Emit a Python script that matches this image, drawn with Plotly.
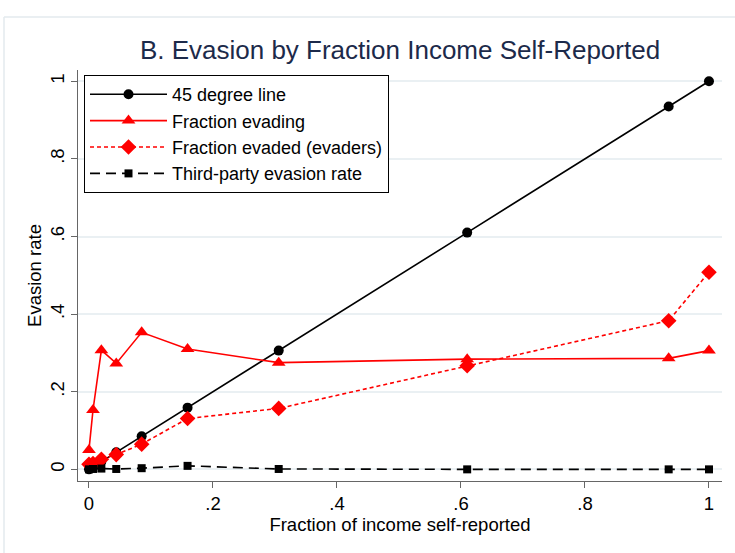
import plotly.graph_objects as go

x_share = [0, 0.0065, 0.02, 0.044, 0.085, 0.159, 0.306, 0.61, 0.935, 1.0]
deg45 = [0, 0.0065, 0.02, 0.044, 0.085, 0.159, 0.306, 0.61, 0.935, 1.0]
frac_evading = [0.050, 0.153, 0.307, 0.273, 0.353, 0.310, 0.275, 0.284, 0.286, 0.306]
frac_evaded = [0.013, 0.015, 0.026, 0.038, 0.065, 0.131, 0.157, 0.267, 0.383, 0.508]
third_party = [0.0, 0.001, 0.002, 0.001, 0.003, 0.009, 0.001, 0.0, 0.0, 0.0]

y_tickvals = [0, 0.2, 0.4, 0.6, 0.8, 1]
y_ticktext = ["0", ".2", ".4", ".6", ".8", "1"]
x_tickvals = [0, 0.2, 0.4, 0.6, 0.8, 1]
x_ticktext = ["0", ".2", ".4", ".6", ".8", "1"]

FONT = "Liberation Sans, Arial, sans-serif"
FS = 18.5

fig = go.Figure()
fig.add_trace(go.Scatter(x=x_share, y=deg45, mode="lines+markers", name="45 degree line",
                         line=dict(color="black", width=1.6),
                         marker=dict(symbol="circle", size=10, color="black")))
fig.add_trace(go.Scatter(x=x_share, y=frac_evading, mode="lines+markers", name="Fraction evading",
                         line=dict(color="#ff0000", width=1.6),
                         marker=dict(symbol="triangle-up", size=12, color="#ff0000")))
fig.add_trace(go.Scatter(x=x_share, y=frac_evaded, mode="lines+markers", name="Fraction evaded (evaders)",
                         line=dict(color="#ff0000", width=1.6, dash="4px,3px"),
                         marker=dict(symbol="diamond", size=12, color="#ff0000")))
fig.add_trace(go.Scatter(x=x_share, y=third_party, mode="lines+markers", name="Third-party evasion rate",
                         line=dict(color="black", width=1.6, dash="10px,6px"),
                         marker=dict(symbol="square", size=8, color="black")))

W, H = 735, 553
L, R, T, B = 78, 13, 70, 72
pw, ph = W - L - R, H - T - B

def px(xp):
    return (xp - L) / pw

def py(yp):
    return (H - B - yp) / ph

fig.update_layout(
    width=W, height=H,
    margin=dict(l=L, r=R, t=T, b=B, autoexpand=False),
    paper_bgcolor="white", plot_bgcolor="white",
    font=dict(family=FONT, size=FS, color="black"),
    title=dict(text="B. Evasion by Fraction Income Self-Reported",
               x=0.5, xref="paper", xanchor="center",
               y=1 - 50 / H, yref="container", yanchor="middle",
               font=dict(family=FONT, size=26, color="#1c2a4a")),
    showlegend=True,
    legend=dict(x=px(84), y=py(75), xanchor="left", yanchor="top",
                bgcolor="white", bordercolor="black", borderwidth=1,
                font=dict(family=FONT, size=18, color="black"),
                itemwidth=77, tracegroupgap=0),
    shapes=[
        dict(type="line", xref="paper", yref="paper", x0=px(4), x1=px(735), y0=py(17), y1=py(17),
             line=dict(color="#e3eaee", width=1.5), layer="below"),
        dict(type="line", xref="paper", yref="paper", x0=px(4), x1=px(4), y0=py(17), y1=py(553),
             line=dict(color="#e3eaee", width=1.5), layer="below"),
    ],
)

fig.update_xaxes(range=[-0.0177, 1.021], tickvals=x_tickvals, ticktext=x_ticktext, automargin=False,
                 showgrid=False, zeroline=False, showline=True, linecolor="#666666", linewidth=1.2,
                 ticks="outside", ticklen=6, tickcolor="#666666", tickwidth=1.2,
                 tickfont=dict(family=FONT, size=FS, color="black"),
                 title=dict(text="Fraction of income self-reported", standoff=0,
                            font=dict(family=FONT, size=FS, color="black")))
fig.update_yaxes(range=[-0.030, 1.029], tickvals=y_tickvals, ticktext=y_ticktext, tickangle=-90,
                 automargin=False,
                 showgrid=True, gridcolor="#eaf0f3", gridwidth=1.8,
                 zeroline=False, showline=True, linecolor="#666666", linewidth=1.2,
                 ticks="outside", ticklen=6, tickcolor="#666666", tickwidth=1.2,
                 tickfont=dict(family=FONT, size=FS, color="black"),
                 title=dict(text="Evasion rate", standoff=0,
                            font=dict(family=FONT, size=FS, color="black")))

fig.write_html("out.html", config={"displayModeBar": False},
               post_script="document.body.style.margin='0';document.body.style.overflow='hidden';")
